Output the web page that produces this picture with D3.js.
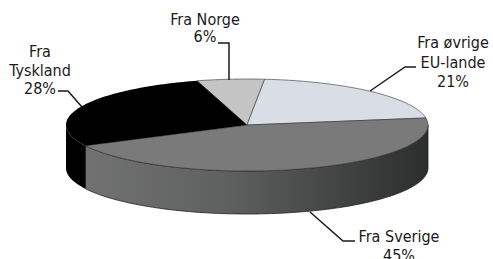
<!DOCTYPE html>
<html lang="en">
<head>
  <meta charset="utf-8">
  <title>Import fordeling</title>
  <script src="https://d3js.org/d3.v7.min.js"></script>
  <style>
    body { margin: 0; background: #fff; }
    text { font-family: "DejaVu Sans Condensed", "DejaVu Sans", sans-serif; font-size: 16px; fill: #1a1a1a; }
  </style>
</head>
<body>
  <script>
    // slice data, in drawing order (clockwise from the start angle)
    var names  = ["Fra Norge", "Fra øvrige EU-lande", "Fra Sverige", "Fra Tyskland"];
    var values = [6, 21, 45, 28];
    var labels = [["Fra Norge", "6%"], ["Fra øvrige", "EU-lande", "21%"], ["Fra Sverige", "45%"], ["Fra", "Tyskland", "28%"]];
    var tops   = ["#c4c4c4", "#d9dde6", "#7a7a7a", "#000000"];

    var w = 493, h = 259;
    var cx = 247, cy = 125, rx = 181, ry = 46, depth = 43;

    var svg = d3.select("body").append("svg")
      .attr("width", w)
      .attr("height", h);

    // gradient for the side of the big slice
    var grad = svg.append("defs").append("linearGradient")
      .attr("id", "side")
      .attr("gradientUnits", "userSpaceOnUse")
      .attr("x1", cx - rx).attr("x2", cx + rx).attr("y1", 0).attr("y2", 0);
    grad.append("stop").attr("offset", "0%").attr("stop-color", "#747474");
    grad.append("stop").attr("offset", "45%").attr("stop-color", "#5e605f");
    grad.append("stop").attr("offset", "100%").attr("stop-color", "#2c2e2d");
    var sides = ["#999", "#aaa", "url(#side)", "#000"];

    var pie = d3.pie().sort(null).value(function(d) { return d; })
      .startAngle(-16 * Math.PI / 180)
      .endAngle(344 * Math.PI / 180);
    var arcs = pie(values);

    function px(a, dy) { return [cx + rx * Math.sin(a), cy - ry * Math.cos(a) + (dy || 0)]; }

    function ellArc(a0, a1, dy) {
      var pts = [], n = Math.max(2, Math.ceil(Math.abs(a1 - a0) / 0.02));
      for (var i = 0; i <= n; i++) pts.push(px(a0 + (a1 - a0) * i / n, dy));
      return pts;
    }

    var line = d3.line();

    // sides (only the front half, pi/2 .. 3pi/2, can be seen)
    arcs.forEach(function(d, i) {
      var a0 = Math.max(d.startAngle, Math.PI / 2), a1 = Math.min(d.endAngle, 3 * Math.PI / 2);
      if (a1 <= a0) return;
      var pts = ellArc(a0, a1, 0).concat(ellArc(a1, a0, depth));
      svg.append("path")
        .attr("d", line(pts) + "Z")
        .attr("fill", sides[i])
        .attr("stroke", i == 2 ? "#222" : "none")
        .attr("stroke-width", 0.8);
    });

    // tops
    arcs.forEach(function(d, i) {
      var pts = [[cx, cy]].concat(ellArc(d.startAngle, d.endAngle, 0));
      svg.append("path")
        .attr("d", line(pts) + "Z")
        .attr("fill", tops[i])
        .attr("stroke", i == 3 ? "none" : "#333")
        .attr("stroke-width", 0.6)
        .attr("stroke-linejoin", "round");
    });

    // labels: [anchor x, first baseline, line step]
    var labelPos = [[205, 25, 17], [453, 48, 19.5], [399, 242, 19], [40, 57, 18.5]];
    var leaders = [
      [[218, 43], [229, 43], [229, 80]],
      [[416, 67], [405, 67], [370, 91]],
      [[310, 212], [343, 241], [355, 241]],
      [[58, 91], [68, 91], [82, 107]]
    ];

    labels.forEach(function(lines, i) {
      var t = svg.append("text").attr("text-anchor", "middle");
      lines.forEach(function(s, j) {
        t.append("tspan")
          .attr("x", labelPos[i][0])
          .attr("y", labelPos[i][1] + j * labelPos[i][2])
          .text(s);
      });
      svg.append("path")
        .attr("d", line(leaders[i]))
        .attr("fill", "none")
        .attr("stroke", "#1a1a1a")
        .attr("stroke-width", 1.5);
    });
  </script>
</body>
</html>
